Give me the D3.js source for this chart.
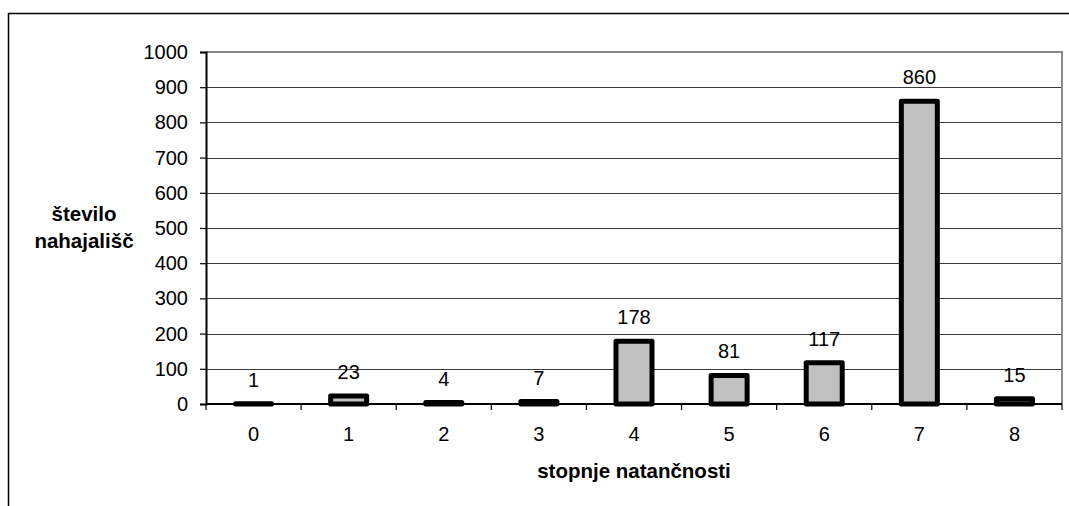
<!DOCTYPE html>
<html>
<head>
<meta charset="utf-8">
<script src="https://cdn.jsdelivr.net/npm/d3@7"></script>
<style>
  html, body { margin: 0; padding: 0; background: #fff; }
  svg { display: block; font-family: "Liberation Sans", Arial, sans-serif; }
</style>
</head>
<body>
<svg id="chart" width="1069" height="506"></svg>
<script>
// Data: number of sites per precision level
const categories = ["0", "1", "2", "3", "4", "5", "6", "7", "8"];
const counts = [1, 23, 4, 7, 178, 81, 117, 860, 15];
const yTicks = [0, 100, 200, 300, 400, 500, 600, 700, 800, 900, 1000];
const yTitleLines = ["število", "nahajališč"];
const xTitle = "stopnje natančnosti";

const svg = d3.select("#chart");
const plot = { left: 206, right: 1062, top: 52, bottom: 404 };
const labelSize = 20;
const titleSize = 20.5;

// Outer frame (only top and left edges fall inside the view)
svg.append("path")
  .attr("d", "M8.5,506 V13.5 H1069")
  .attr("fill", "none")
  .attr("stroke", "#000")
  .attr("stroke-width", 1.5);

const x = d3.scaleBand()
  .domain(categories)
  .range([plot.left, plot.right])
  .paddingInner(0)
  .paddingOuter(0);

const y = d3.scaleLinear()
  .domain([0, 1000])
  .range([plot.bottom, plot.top]);

// Horizontal gridlines
svg.append("g")
  .selectAll("line")
  .data(yTicks.filter(d => d > 0 && d < 1000))
  .join("line")
  .attr("x1", plot.left)
  .attr("x2", plot.right)
  .attr("y1", d => Math.round(y(d)) + 0.5)
  .attr("y2", d => Math.round(y(d)) + 0.5)
  .attr("stroke", "#3a3a3a")
  .attr("stroke-width", 1);

// Plot area border (top and right)
svg.append("path")
  .attr("d", `M${plot.left},${y(1000)} H${plot.right} V${plot.bottom}`)
  .attr("fill", "none")
  .attr("stroke", "#8a8a8a")
  .attr("stroke-width", 2);

// Y axis
const yAxis = svg.append("g")
  .attr("transform", `translate(${plot.left},0)`)
  .call(d3.axisLeft(y).tickValues(yTicks).tickSize(6).tickPadding(12).tickFormat(d3.format("d")));
yAxis.select(".domain").attr("stroke", "#000").attr("stroke-width", 2);
yAxis.selectAll(".tick line").attr("stroke", "#000").attr("stroke-width", 1.2);
yAxis.selectAll(".tick text")
  .attr("font-size", labelSize)
  .attr("fill", "#000")
  .attr("font-family", "Liberation Sans, Arial, sans-serif");

// X axis: ticks on category boundaries, labels at centers
const xAxisG = svg.append("g").attr("transform", `translate(0,${plot.bottom})`);
xAxisG.append("line")
  .attr("x1", plot.left).attr("x2", plot.right)
  .attr("y1", 0).attr("y2", 0)
  .attr("stroke", "#000").attr("stroke-width", 2);
const boundaries = categories.map(c => x(c)).concat([x(categories[categories.length - 1]) + x.bandwidth()]);
xAxisG.selectAll("line.tick")
  .data(boundaries)
  .join("line")
  .attr("class", "tick")
  .attr("x1", d => d).attr("x2", d => d)
  .attr("y1", 0).attr("y2", 6)
  .attr("stroke", "#000").attr("stroke-width", 1.2);
xAxisG.selectAll("text")
  .data(categories)
  .join("text")
  .attr("x", d => x(d) + x.bandwidth() / 2)
  .attr("y", 37)
  .attr("text-anchor", "middle")
  .attr("font-size", labelSize)
  .attr("fill", "#000")
  .text(d => d);

// Bars
const barW = 36;
svg.append("g")
  .selectAll("rect")
  .data(categories.map((c, i) => ({ c, v: counts[i] })))
  .join("rect")
  .attr("x", d => x(d.c) + x.bandwidth() / 2 - barW / 2)
  .attr("y", d => y(d.v))
  .attr("width", barW)
  .attr("height", d => y(0) - y(d.v))
  .attr("fill", "#c0c0c0")
  .attr("stroke", "#000")
  .attr("stroke-width", 5)
  .attr("stroke-linejoin", "round");

// Value labels
svg.append("g")
  .selectAll("text")
  .data(categories.map((c, i) => ({ c, v: counts[i] })))
  .join("text")
  .attr("x", d => x(d.c) + x.bandwidth() / 2)
  .attr("y", d => y(d.v) - 17)
  .attr("text-anchor", "middle")
  .attr("font-size", labelSize)
  .attr("fill", "#000")
  .text(d => d.v);

// Axis titles
const yTitle = svg.append("text")
  .attr("text-anchor", "middle")
  .attr("font-size", titleSize)
  .attr("font-weight", "bold")
  .attr("fill", "#000");
yTitleLines.forEach((t, i) => {
  yTitle.append("tspan").attr("x", 84).attr("y", 221 + i * 27).text(t);
});

svg.append("text")
  .attr("x", (plot.left + plot.right) / 2)
  .attr("y", 478)
  .attr("text-anchor", "middle")
  .attr("font-size", titleSize)
  .attr("font-weight", "bold")
  .attr("fill", "#000")
  .text(xTitle);
</script>
</body>
</html>
